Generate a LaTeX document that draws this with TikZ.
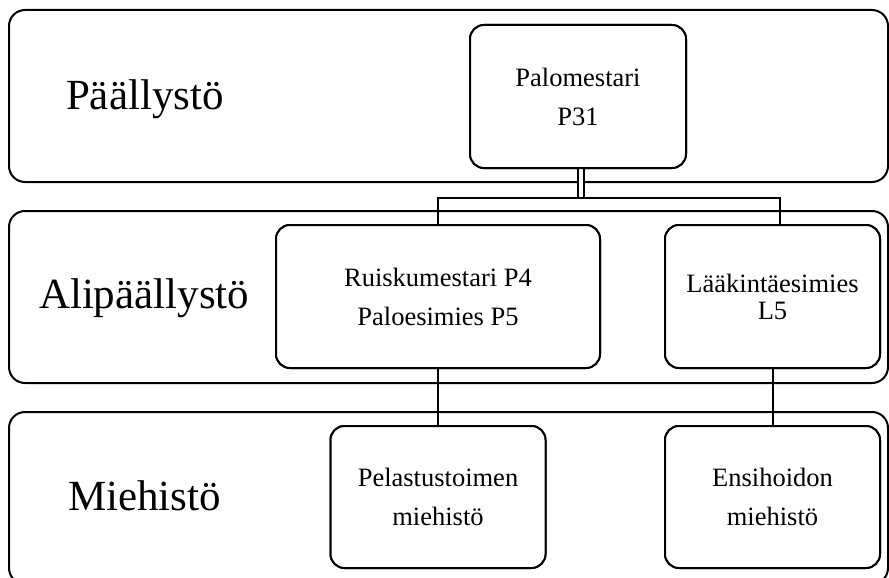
\documentclass[tikz,border=0pt]{standalone}
\usepackage{fontspec}
\setmainfont{Liberation Serif}
\begin{document}
\begin{tikzpicture}[x=1pt,y=-1pt,line width=2pt,
  band/.style={draw,fill=white,rounded corners=16pt,minimum width=879pt,
    minimum height=172pt,inner sep=0pt},
  levellabel/.style={anchor=base west,inner sep=0pt,font=\fontsize{43}{48}\selectfont},
  unit/.style={draw,fill=white,rounded corners=14pt,inner sep=0pt,align=center,
    font=\fontsize{26.5}{39}\selectfont},
  wire/.style={draw,line width=2pt}]
  \useasboundingbox (0,0) rectangle (889,578);
  \fill[white] (0,0) rectangle (889,578);
  \clip (0,0) rectangle (889,578);

  % level bands
  \node[band] (b1) at (448.5,96) {};
  \node[band] (b2) at (448.5,297) {};
  \node[band] (b3) at (448.5,498) {};

  \node[levellabel] (l1) at (65,110) {Päällystö};
  \node[levellabel] (l2) at (38,308) {Alipäällystö};
  \node[levellabel] (l3) at (67,510) {Miehistö};

  % units (placed first so connectors can refer to them)
  \node[unit,minimum width=216pt,minimum height=143pt] (pal) at (578,96.5)
    {Palomestari\\P31};
  \node[unit,minimum width=324pt,minimum height=143pt] (rui) at (438,296.5)
    {Ruiskumestari P4\\Paloesimies P5};
  \node[unit,minimum width=215pt,minimum height=143pt,
    font=\fontsize{26.5}{27}\selectfont] (lak) at (772.5,296.5)
    {Lääkintäesimies\\L5};
  \node[unit,minimum width=215pt,minimum height=142pt] (pel) at (438,497)
    {Pelastustoimen\\miehistö};
  \node[unit,minimum width=215pt,minimum height=142pt] (ens) at (772.5,497)
    {Ensihoidon\\miehistö};

  % connectors
  \coordinate (bus) at (581,198);
  \coordinate (lakin) at ([xshift=7.5pt]lak.north);
  \draw[double,double distance=4pt] (pal.south -| bus) -- (bus);
  \draw[wire] (rui.north) -- (rui.north |- bus) -- (lakin |- bus) -- (lakin);
  \draw[wire] (rui.south) -- (pel.north);
  \draw[wire] (lak.south) -- (ens.north);

  % redraw units on top of the connectors
  \node[unit,minimum width=216pt,minimum height=143pt] at (pal)
    {Palomestari\\P31};
  \node[unit,minimum width=324pt,minimum height=143pt] at (rui)
    {Ruiskumestari P4\\Paloesimies P5};
  \node[unit,minimum width=215pt,minimum height=143pt,
    font=\fontsize{26.5}{27}\selectfont] at (lak)
    {Lääkintäesimies\\L5};
  \node[unit,minimum width=215pt,minimum height=142pt] at (pel)
    {Pelastustoimen\\miehistö};
  \node[unit,minimum width=215pt,minimum height=142pt] at (ens)
    {Ensihoidon\\miehistö};
\end{tikzpicture}
\end{document}
